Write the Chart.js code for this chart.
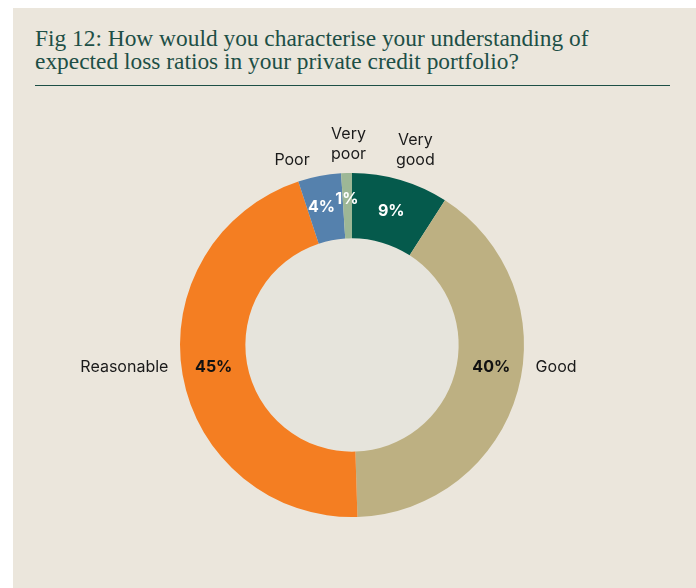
<!DOCTYPE html>
<html lang="en">
<head>
  <meta charset="UTF-8">
  <title>Fig 12</title>
  <script src="https://cdn.jsdelivr.net/npm/chart.js"></script>
  <style>
    html, body { margin: 0; padding: 0; background: #ffffff; }
    #panel {
      position: absolute; left: 13px; top: 8px; width: 683px; height: 580px;
      background: #ebe6dc;
    }
    #title {
      position: absolute; left: 22px; top: 19px; width: 650px;
      font-family: "Liberation Serif", "DejaVu Serif", serif;
      font-size: 23.4px; line-height: 23px; color: #1d4f46;
    }
    #rule {
      position: absolute; left: 22px; top: 77px; width: 635px; height: 0;
      border-top: 1.5px solid #1d4f46;
    }
    #priceChart { position: absolute; left: 0; top: 92px; }
  </style>
</head>
<body>
  <div id="panel">
    <div id="title">Fig 12: How would you characterise your understanding of<br>expected loss ratios in your private credit portfolio?</div>
    <div id="rule"></div>
    <canvas id="priceChart" width="683" height="488"></canvas>
  </div>

  <script>
    const categories = ['Very good', 'Good', 'Reasonable', 'Poor', 'Very poor'];
    const shares = [9, 40, 45, 4, 1];
    const sliceColors = ['#055a4c', '#bdb082', '#f47e22', '#5581ad', '#9db796'];
    const pctColors = ['#ffffff', '#111111', '#111111', '#ffffff', '#ffffff'];

    // where each category name sits: angle (deg clockwise from top), distance from centre
    const namePlace = [
      { a: 18, d: 205, align: 'center' },
      { a: 97, d: 185, align: 'left' },
      { a: 263, d: 185, align: 'right' },
      { a: -18, d: 194, align: 'center' },
      { a: -1, d: 201, align: 'center' }
    ];
    // percentage labels default to the slice middle at mid-ring; some are nudged
    const pctPlace = [
      null,
      { a: 99, d: 141 },
      { a: 261, d: 140 },
      { a: -12.5, d: 141 },
      { a: -2, d: 146 }
    ];

    const toRad = deg => (deg - 90) * Math.PI / 180;

    const labelPlugin = {
      id: 'sliceLabels',
      beforeDatasetsDraw(chart) {
        const arc = chart.getDatasetMeta(0).data[0];
        const ctx = chart.ctx;
        ctx.save();
        ctx.fillStyle = '#e6e4dc';
        ctx.beginPath();
        ctx.arc(arc.x, arc.y, arc.innerRadius, 0, Math.PI * 2);
        ctx.fill();
        ctx.restore();
      },
      afterDatasetsDraw(chart) {
        const ctx = chart.ctx;
        const meta = chart.getDatasetMeta(0);
        ctx.save();
        ctx.textBaseline = 'middle';
        meta.data.forEach((arc, i) => {
          let r = (arc.innerRadius + arc.outerRadius) / 2;
          let ang = (arc.startAngle + arc.endAngle) / 2;
          if (pctPlace[i]) {
            ang = toRad(pctPlace[i].a);
            r = pctPlace[i].d;
          }
          ctx.font = 'bold 16px Inter, "Liberation Sans", sans-serif';
          ctx.fillStyle = pctColors[i];
          ctx.textAlign = 'center';
          ctx.fillText(shares[i] + '%', arc.x + Math.cos(ang) * r, arc.y + Math.sin(ang) * r);

          const p = namePlace[i];
          const a = toRad(p.a);
          const x = arc.x + Math.cos(a) * p.d;
          const y = arc.y + Math.sin(a) * p.d;
          ctx.font = '16px Inter, "Liberation Sans", sans-serif';
          ctx.fillStyle = '#1a1a1a';
          ctx.textAlign = p.align;
          const words = categories[i].split(' ');
          words.forEach((w, k) => {
            ctx.fillText(w, x, y + (k - (words.length - 1) / 2) * 20);
          });
        });
        ctx.restore();
      }
    };

    new Chart(document.getElementById('priceChart').getContext('2d'), {
      type: 'doughnut',
      data: {
        labels: categories,
        datasets: [{
          data: shares,
          backgroundColor: sliceColors,
          borderWidth: 0
        }]
      },
      options: {
        responsive: false,
        animation: false,
        cutout: '62%',
        layout: { padding: { left: 167, right: 172, top: 73, bottom: 71 } },
        plugins: { legend: { display: false }, tooltip: { enabled: false } }
      },
      plugins: [labelPlugin]
    });
  </script>
</body>
</html>
